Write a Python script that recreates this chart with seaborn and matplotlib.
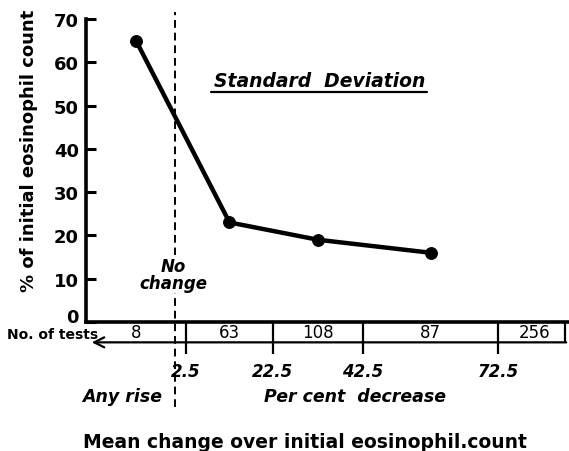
import numpy as np
import pandas as pd
import matplotlib
matplotlib.use('Agg')
import matplotlib.pyplot as plt
import matplotlib.transforms as mtransforms
import seaborn as sns

# 数据
sd_values = [65, 23, 19, 16]                 # % of initial eosinophil count
n_tests = [8, 63, 108, 87, 256]              # No. of tests per interval
edge_labels = ['2.5', '22.5', '42.5', '72.5']
y_ticks = [0, 10, 20, 30, 40, 50, 60, 70]

# 版面: 区间边界位置 (x轴不是线性刻度)
edges = [0.0, 1.0, 1.87, 2.77, 4.12, 4.79]
x_right = 4.83

mids = [(edges[i] + edges[i + 1]) / 2 for i in range(len(edges) - 1)]
df = pd.DataFrame({'x': mids[:len(sd_values)], 'sd': sd_values})

sns.set_style('white')
plt.rcParams['font.family'] = ['DejaVu Sans']
plt.rcParams['text.color'] = 'black'
plt.rcParams['axes.labelcolor'] = 'black'

fig = plt.figure(figsize=(5.69, 4.52), dpi=100)
ax = fig.add_axes([86 / 569, 1 - 323 / 452, (569 - 86) / 569, (323 - 20) / 452])

sns.lineplot(data=df, x='x', y='sd', ax=ax, color='black', lw=3.2,
             marker='o', markersize=8.5, markeredgecolor='black', clip_on=False)

ax.set_xlim(0, x_right)
ax.set_ylim(0, 70)
for s in ['top', 'right']:
    ax.spines[s].set_visible(False)
for s in ['left', 'bottom']:
    ax.spines[s].set_linewidth(2.6)
    ax.spines[s].set_color('black')
    ax.spines[s].set_zorder(5)

ax.set_yticks(y_ticks)
ax.set_yticklabels([str(v) for v in y_ticks], fontsize=13, fontweight='bold')
ax.tick_params(axis='y', left=True, direction='in', length=7, width=2.2, pad=5,
               colors='black')
# "0" 稍微上移, 避开 No. of tests
lbl0 = ax.get_yticklabels()[0]
lbl0.set_transform(lbl0.get_transform() +
                   mtransforms.ScaledTranslation(0, 7 / 100, fig.dpi_scale_trans))

ax.set_xticks(edges[1:5])
ax.set_xticklabels(edge_labels, fontsize=12, style='italic', fontweight='bold')
ax.tick_params(axis='x', bottom=True, direction='out', length=23, width=1.6,
               pad=6, colors='black')

ax.set_ylabel('% of initial eosinophil count', fontsize=13, fontweight='bold')
ax.yaxis.set_label_coords(-0.099, 0.568)
ax.set_xlabel('Mean change over initial eosinophil.count', fontsize=13.5,
              fontweight='bold')
ax.xaxis.set_label_coords(0.453, -0.363)

# 计数行
ax.text(0.12, -2.75, 'No. of tests', fontsize=10, fontweight='bold',
        ha='right', va='center', clip_on=False)
for i, n in enumerate(n_tests):
    ax.text(mids[i] if i < 4 else (edges[4] + edges[5]) / 2 + 0.03, -2.4, str(n),
            fontsize=12, ha='center', va='center')
ax.annotate('', xy=(0.03, -4.7), xytext=(x_right, -4.7),
            arrowprops=dict(arrowstyle='->', lw=1.6, color='black',
                            mutation_scale=18), annotation_clip=False)
ax.plot([edges[5], edges[5]], [0, -4.7], color='black', lw=1.6, clip_on=False)

# 无变化虚线
ax.plot([0.89, 0.89], [-19.6, 71.6], color='black', lw=1.4, ls=(0, (4, 2.5)),
        clip_on=False, zorder=1)
ax.text(0.87, 11.0, 'No\nchange', fontsize=12, style='italic', fontweight='bold',
        ha='center', va='center', linespacing=0.95, zorder=3,
        bbox=dict(facecolor='white', edgecolor='none', pad=1))

ax.text(0.36, -17.1, 'Any rise', fontsize=12.5, style='italic', fontweight='bold',
        ha='center', va='center', clip_on=False)
ax.text(2.69, -17.1, 'Per cent  decrease', fontsize=12.5, style='italic',
        fontweight='bold', ha='center', va='center', clip_on=False)

# 标题
ax.text(2.34, 55.7, 'Standard  Deviation', fontsize=13.5, style='italic',
        fontweight='bold', ha='center', va='center')
ax.plot([1.25, 3.41], [53.1, 53.1], color='black', lw=1.6)

fig.savefig('out.png', dpi=100)
